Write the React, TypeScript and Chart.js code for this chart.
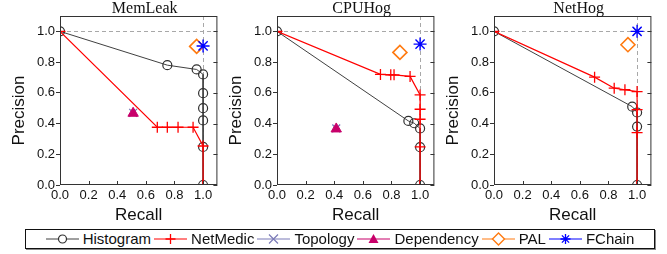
import React, { useEffect, useRef } from "react";
import { Chart, registerables } from "chart.js";

Chart.register(...registerables);

// ---------- data ----------
const PANEL_TITLES = ["MemLeak", "CPUHog", "NetHog"];
const SERIES_NAMES = ["Histogram", "NetMedic", "Topology", "Dependency", "PAL", "FChain"];
const AXIS_X_TITLE = "Recall";
const AXIS_Y_TITLE = "Precision";

// MemLeak
const memHistogram = [[0, 1], [0.75, 0.78], [0.955, 0.752], [1, 0.72], [1, 0.598], [1, 0.5], [1, 0.42], [1, 0.248], [1, 0]];
const memNetMedic = [[0, 1], [0.68, 0.376], [0.75, 0.376], [0.825, 0.376], [0.93, 0.376], [1, 0.254], [1, 0]];
const memTopology = [[0.511, 0.47]];
const memDependency = [[0.511, 0.467]];
const memPAL = [[0.955, 0.902]];
const memFChain = [[1, 0.905]];

// CPUHog
const cpuHistogram = [[0, 1], [0.918, 0.417], [0.959, 0.402], [1, 0.368], [1, 0.246], [1, 0]];
const cpuNetMedic = [[0, 1], [0.723, 0.72], [0.795, 0.717], [0.818, 0.717], [0.93, 0.707], [1, 0.586], [1, 0.493], [1, 0.428], [1, 0.248], [1, 0]];
const cpuTopology = [[0.414, 0.368]];
const cpuDependency = [[0.414, 0.365]];
const cpuPAL = [[0.859, 0.863]];
const cpuFChain = [[1, 0.917]];

// NetHog
const netHistogram = [[0, 1], [0.966, 0.51], [1, 0.472], [1, 0.38], [1, 0]];
const netNetMedic = [[0, 1], [0.703, 0.702], [0.84, 0.63], [0.915, 0.62], [1, 0.608], [1, 0.49], [1, 0.341], [1, 0]];
const netTopology = [[1, 1]];
const netDependency: number[][] = [];
const netPAL = [[0.936, 0.913]];
const netFChain = [[1, 1]];

const X_TICKS = [0, 0.2, 0.4, 0.6, 0.8, 1.0];
const Y_TICKS = [0, 0.2, 0.4, 0.6, 0.8, 1.0];

const PANEL_DATA = [
  [memHistogram, memNetMedic, memTopology, memDependency, memPAL, memFChain],
  [cpuHistogram, cpuNetMedic, cpuTopology, cpuDependency, cpuPAL, cpuFChain],
  [netHistogram, netNetMedic, netTopology, netDependency, netPAL, netFChain],
];

// ---------- styles ----------
const C_HIST = "#404040";
const C_NET = "#ff0000";
const C_TOPO = "#7b7bb8";
const C_DEP = "#c8006a";
const C_PAL = "#ff7a10";
const C_FCH = "#0000ff";

const SANS = '"Liberation Sans", Arial, sans-serif';
const SERIF = '"Liberation Serif", "Times New Roman", serif';

const PLOT_LEFTS = [60, 277, 494];
const CANVAS_W = 226;
const CANVAS_H = 226;
const Y_AXIS_W = 60;
const PLOT_TOP = 16;
const PLOT_BOTTOM = 185;

function seriesStyle(i: number) {
  switch (i) {
    case 0:
      return { showLine: true, borderColor: C_HIST, borderWidth: 1, pointStyle: "circle", pointRadius: 4.5, pointBorderColor: "#303030", pointBackgroundColor: "rgba(255,255,255,0)", pointBorderWidth: 1.2, order: 6 };
    case 1:
      return { showLine: true, borderColor: C_NET, borderWidth: 1.2, pointStyle: "cross", pointRadius: 5.5, pointBorderColor: C_NET, pointBackgroundColor: C_NET, pointBorderWidth: 1.3, order: 5 };
    case 2:
      return { showLine: false, borderColor: C_TOPO, pointStyle: "crossRot", pointRadius: 5.5, pointBorderColor: C_TOPO, pointBackgroundColor: C_TOPO, pointBorderWidth: 1.3, order: 4 };
    case 3:
      return { showLine: false, borderColor: C_DEP, pointStyle: "triangle", pointRadius: 6, pointBorderColor: C_DEP, pointBackgroundColor: C_DEP, pointBorderWidth: 1, order: 3 };
    case 4:
      return { showLine: false, borderColor: C_PAL, pointStyle: "rectRot", pointRadius: 7, pointBorderColor: C_PAL, pointBackgroundColor: "rgba(255,255,255,0)", pointBorderWidth: 1.6, order: 2 };
    default:
      return { showLine: false, borderColor: C_FCH, pointStyle: "star", pointRadius: 6.5, pointBorderColor: C_FCH, pointBackgroundColor: C_FCH, pointBorderWidth: 1.4, order: 1 };
  }
}

const decorPlugin = {
  id: "decor",
  beforeDatasetsDraw(chart: any) {
    const { ctx, chartArea: a, scales } = chart;
    const x = scales.x, y = scales.y;
    ctx.save();
    ctx.strokeStyle = "#a8a8a8";
    ctx.lineWidth = 1;
    ctx.setLineDash([4, 3]);
    const py = Math.round(y.getPixelForValue(1)) + 0.5;
    ctx.beginPath();
    ctx.moveTo(a.left, py);
    ctx.lineTo(a.right, py);
    ctx.stroke();
    const px = Math.round(x.getPixelForValue(1)) + 0.5;
    ctx.beginPath();
    ctx.moveTo(px, a.top);
    ctx.lineTo(px, a.bottom);
    ctx.stroke();
    ctx.restore();
  },
  afterDraw(chart: any, _args: any, opts: any) {
    const { ctx, chartArea: a, scales } = chart;
    const x = scales.x, y = scales.y;
    ctx.save();
    ctx.strokeStyle = "#333";
    ctx.lineWidth = 1;
    ctx.strokeRect(a.left + 0.5, a.top + 0.5, a.right - a.left - 1, a.bottom - a.top - 1);
    // inner ticks on bottom and right
    ctx.beginPath();
    X_TICKS.forEach((v) => {
      const px = Math.round(x.getPixelForValue(v)) + 0.5;
      ctx.moveTo(px, a.bottom);
      ctx.lineTo(px, a.bottom - 4);
    });
    Y_TICKS.forEach((v) => {
      const py = Math.round(y.getPixelForValue(v)) + 0.5;
      ctx.moveTo(a.right, py);
      ctx.lineTo(a.right - 4, py);
    });
    ctx.stroke();
    // texts
    const cx = (a.left + a.right) / 2;
    const cy = (a.top + a.bottom) / 2;
    ctx.fillStyle = "#111";
    ctx.font = `16px ${SERIF}`;
    ctx.textAlign = "center";
    ctx.textBaseline = "alphabetic";
    ctx.fillText(opts.title, cx + 6, 13);
    ctx.font = `17px ${SANS}`;
    ctx.fillText(AXIS_X_TITLE, cx, 220);
    ctx.translate(a.left - 41, cy + 10);
    ctx.rotate(-Math.PI / 2);
    ctx.textBaseline = "middle";
    ctx.fillText(AXIS_Y_TITLE, 0, 0);
    ctx.restore();
  },
};

function Panel({ index }: { index: number }) {
  const ref = useRef<HTMLCanvasElement | null>(null);
  useEffect(() => {
    if (!ref.current) return;
    const data = PANEL_DATA[index];
    const chart = new Chart(ref.current, {
      type: "scatter",
      data: {
        datasets: SERIES_NAMES.map((name, i) => ({
          label: name,
          data: data[i].map((p) => ({ x: p[0], y: p[1] })),
          ...(seriesStyle(i) as any),
        })),
      },
      options: {
        responsive: false,
        animation: false,
        events: [],
        layout: { padding: { top: PLOT_TOP, right: 4, left: 0, bottom: 0 } },
        plugins: {
          legend: { display: false },
          tooltip: { enabled: false },
          title: { display: false },
          decor: { title: PANEL_TITLES[index] },
        } as any,
        scales: {
          x: {
            type: "linear",
            min: 0,
            max: 1.1,
            border: { display: false },
            grid: { drawOnChartArea: false, drawTicks: false },
            ticks: {
              stepSize: 0.2,
              includeBounds: false,
              padding: 3,
              color: "#111",
              font: { family: SANS, size: 13 },
              callback: (v: any) => Number(v).toFixed(1),
              maxRotation: 0,
            },
            afterFit: (s: any) => {
              s.height = CANVAS_H - PLOT_BOTTOM;
            },
          },
          y: {
            type: "linear",
            min: 0,
            max: 1.1,
            border: { display: false },
            grid: { drawOnChartArea: false, drawTicks: true, tickLength: 4, color: "#333" },
            ticks: {
              stepSize: 0.2,
              includeBounds: false,
              padding: 1,
              color: "#111",
              font: { family: SANS, size: 13 },
              callback: (v: any) => Number(v).toFixed(1),
            },
            afterFit: (s: any) => {
              s.width = Y_AXIS_W;
            },
          },
        },
      } as any,
      plugins: [decorPlugin as any],
    });
    return () => chart.destroy();
  }, [index]);
  return (
    <canvas
      ref={ref}
      width={CANVAS_W}
      height={CANVAS_H}
      style={{ position: "absolute", left: PLOT_LEFTS[index] - Y_AXIS_W, top: 0, width: CANVAS_W, height: CANVAS_H }}
    />
  );
}

function LegendIcon({ i }: { i: number }) {
  const cx = 16.5, cy = 8;
  let color = C_HIST;
  let marker: React.ReactNode = null;
  if (i === 0) {
    color = C_HIST;
    marker = <circle cx={cx} cy={cy} r={4} fill="#fff" stroke="#303030" strokeWidth={1.2} />;
  } else if (i === 1) {
    color = C_NET;
    marker = <path d={`M${cx - 5} ${cy}H${cx + 5}M${cx} ${cy - 5}V${cy + 5}`} stroke={C_NET} strokeWidth={1.3} />;
  } else if (i === 2) {
    color = C_TOPO;
    marker = <path d={`M${cx - 4.5} ${cy - 4.5}L${cx + 4.5} ${cy + 4.5}M${cx - 4.5} ${cy + 4.5}L${cx + 4.5} ${cy - 4.5}`} stroke={C_TOPO} strokeWidth={1.2} />;
  } else if (i === 3) {
    color = C_DEP;
    marker = <path d={`M${cx} ${cy - 5}L${cx + 5} ${cy + 4}L${cx - 5} ${cy + 4}Z`} fill={C_DEP} />;
  } else if (i === 4) {
    color = C_PAL;
    marker = <path d={`M${cx} ${cy - 6}L${cx + 6} ${cy}L${cx} ${cy + 6}L${cx - 6} ${cy}Z`} fill="#fff" stroke={C_PAL} strokeWidth={1.4} />;
  } else {
    color = C_FCH;
    marker = (
      <path
        d={`M${cx - 5} ${cy}H${cx + 5}M${cx} ${cy - 5}V${cy + 5}M${cx - 3.6} ${cy - 3.6}L${cx + 3.6} ${cy + 3.6}M${cx - 3.6} ${cy + 3.6}L${cx + 3.6} ${cy - 3.6}`}
        stroke={C_FCH}
        strokeWidth={1.3}
      />
    );
  }
  return (
    <svg width={33} height={16} style={{ display: "block" }}>
      <line x1={0} y1={cy} x2={33} y2={cy} stroke={color} strokeWidth={1.2} />
      {marker}
    </svg>
  );
}

export default function App() {
  return (
    <div style={{ position: "absolute", left: 0, top: 0, width: 667, height: 254, background: "#fff", overflow: "hidden" }}>
      {PANEL_TITLES.map((_, i) => (
        <Panel key={i} index={i} />
      ))}
      <div
        style={{
          position: "absolute",
          left: 25,
          top: 229,
          width: 628,
          height: 18,
          border: "1px solid #111",
          boxShadow: "1px 1px 0 #888",
          display: "flex",
          alignItems: "center",
          justifyContent: "center",
          fontFamily: SANS,
          fontSize: 15,
          color: "#111",
          whiteSpace: "nowrap",
        }}
      >
        {SERIES_NAMES.map((name, i) => (
          <div key={name} style={{ display: "flex", alignItems: "center", marginRight: i < SERIES_NAMES.length - 1 ? 3 : 0 }}>
            <LegendIcon i={i} />
            <span style={{ marginLeft: 4, lineHeight: "18px" }}>{name}</span>
          </div>
        ))}
      </div>
    </div>
  );
}
